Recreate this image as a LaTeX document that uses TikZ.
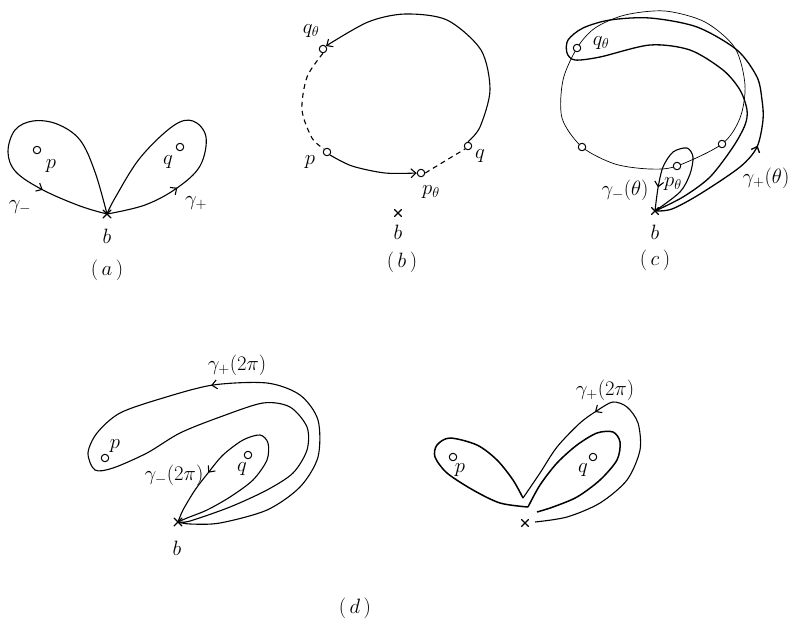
\documentclass[tikz,border=0pt]{standalone}
\usetikzlibrary{arrows.meta,decorations.markings,shapes.misc,backgrounds}
\begin{document}
\begin{tikzpicture}[x=1pt,y=-1pt, line cap=round, line join=round,
 curve/.style={line width=1.1pt},
 thincurve/.style={line width=0.7pt},
 thickcurve/.style={line width=1.5pt},
 pt/.style={circle,draw,fill=white,minimum size=7.5pt,inner sep=0pt,line width=1pt},
 bpt/.style={cross out,draw,minimum size=7pt,inner sep=0pt,line width=1.1pt},
 lab/.style={inner sep=1pt,font=\fontsize{20.74}{24}\selectfont},
 barb/.style={-{Straight Barb[length=5pt,width=9pt]}},
 midarrow/.style={postaction={decorate,decoration={markings,mark=at position #1 with {\arrow{Straight Barb[length=5pt,width=9pt]}}}}},
 dsh/.style={dash pattern=on 5pt off 4pt}
]
\useasboundingbox (0,0) rectangle (793,625);

% ---------- (a) ----------
\node[bpt] (ba) at (107,214) {};
\node[pt] (pa) at (37,150) {};
\node[pt] (qa) at (180,147) {};
\node[lab] (lpa) at (51,166) {$p$};
\node[lab] (lqa) at (168,162) {$q$};
\node[lab] (lgma) at (20,207) {$\gamma_-$};
\node[lab] (lgpa) at (196,203) {$\gamma_+$};
\node[lab] (lba) at (107,236) {$b$};
\node[lab] (capa) at (107,270) {(\,$a$\,)};
\begin{scope}[on background layer]
\draw[curve,midarrow=0.77] plot[smooth,tension=0.6] coordinates {(ba.center) (95,172) (80,140) (57,124) (33,121) (15,130) (8,152) (16,172) (43,190) (80,206) (ba.center)};
\draw[curve,midarrow=0.26] plot[smooth,tension=0.6] coordinates {(ba.center) (145,205) (177,188) (200,166) (206,137) (193,121) (173,126) (140,158) (115,198) (ba.center)};
\end{scope}

% ---------- (b) ----------
\node[pt] (qtb) at (323,49) {};
\node[pt] (pb) at (327,152) {};
\node[pt] (ptb) at (421,173) {};
\node[pt] (qb) at (468,146) {};
\node[bpt,minimum size=6pt] (bb) at (398,213) {};
\node[lab] (lqtb) at (311,31) {$q_\theta$};
\node[lab] (lpb) at (310,162) {$p$};
\node[lab] (lptb) at (431,192) {$p_\theta$};
\node[lab] (lqb) at (480,156) {$q$};
\node[lab] (lbb) at (398,232) {$b$};
\node[lab] (capb) at (402,262) {(\,$b$\,)};
\begin{scope}[on background layer]
\draw[curve,barb] plot[smooth] coordinates {(qb.north) (480,127) (490,90) (481,50) (447,20) (405,14) (368,22) (qtb.north east)};
\draw[curve,dsh] plot[smooth] coordinates {(qtb.south) (307,77) (302,110) (312,138) (pb.north west)};
\draw[curve,barb] plot[smooth] coordinates {(pb.south east) (352,166) (385,173) (ptb.west)};
\draw[curve,dsh] plot[smooth] coordinates {(ptb.east) (445,161) (qb.south west)};
\end{scope}

% ---------- (c) ----------
\node[pt] (qtc) at (577,48) {};
\node[pt] (lc) at (582,147) {};
\node[pt] (ptc) at (677,166) {};
\node[pt] (rc) at (722,144) {};
\node[bpt,minimum size=6pt] (bc) at (655,211) {};
\node[lab] (lqtc) at (601,43) {$q_\theta$};
\node[lab] (lgmc) at (625,190) {$\gamma_-(\theta)$};
\node[lab] (lptc) at (673,184) {$p_\theta$};
\node[lab] (lgpc) at (766,178) {$\gamma_+(\theta)$};
\node[lab] (lbc) at (655,232) {$b$};
\node[lab] (capc) at (655,260) {(\,$c$\,)};
\begin{scope}[on background layer]
\draw[thincurve] plot[smooth cycle] coordinates {(qtc.center) (563,80) (562,118) (lc.center) (615,164) (650,169) (ptc.center) (rc.center) (740,118) (745,85) (735,48) (705,22) (665,11) (625,15) (595,28)};
\draw[curve,line width=1.3pt,midarrow=0.16] plot[smooth] coordinates {(bc.center) (672,209) (700,194) (740,167) (757,147) (763,120) (762,100) (757,77) (737,50) (697,27) (650,18) (610,20) (583,28) (568,40) (567,53) (575,60) (600,57) (650,45) (690,50) (723,70) (740,90) (747,110) (745,125) (733,147) (710,177) (683,197) (bc.center)};
\draw[curve,midarrow=0.85] plot[smooth] coordinates {(bc.center) (680,192) (690,174) (693,157) (687,148) (673,152) (663,167) (658,188) (bc.center)};
\end{scope}

% ---------- (d) left ----------
\node[bpt] (bdl) at (178,522) {};
\node[pt] (pdl) at (105,458) {};
\node[pt] (qdl) at (248,455) {};
\node[lab] (lpdl) at (115,446) {$p$};
\node[lab] (lqdl) at (242,469) {$q$};
\node[lab] (lgpdl) at (237,365) {$\gamma_+(2\pi)$};
\node[lab] (lgmdl) at (174,475) {$\gamma_-(2\pi)$};
\node[lab] (lbdl) at (177,548) {$b$};
\begin{scope}[on background layer]
\draw[curve,midarrow=0.78] plot[smooth] coordinates {(bdl.center) (187,518) (207,510) (230,497) (253,480) (267,460) (268,443) (260,435) (243,440) (223,455) (208,473) (195,490) (183,510) (bdl.center)};
\draw[curve,midarrow=0.36] plot[smooth] coordinates {(bdl.center) (190,524) (220,523) (267,510) (300,487) (318,457) (318,420) (300,395) (267,383) (213,385) (163,398) (120,413) (97,433) (88,453) (95,470) (113,468) (147,453) (180,433) (220,417) (263,403) (290,407) (307,427) (307,450) (293,473) (267,490) (230,507) (190,521) (bdl.center)};
\end{scope}

% ---------- (d) right ----------
\node[bpt,minimum size=6pt] (bdr) at (525,523) {};
\node[pt] (pdr) at (453,457) {};
\node[pt] (qdr) at (593,457) {};
\coordinate (vdr) at (523,498);
\coordinate (kdr) at (528,507);
\coordinate (edr) at (537,512);
\coordinate (sdr) at (535,522);
\node[lab] (lpdr) at (460,470) {$p$};
\node[lab] (lqdr) at (583,470) {$q$};
\node[lab] (lgpdr) at (605,390) {$\gamma_+(2\pi)$};
\node[lab] (capd) at (355,608) {(\,$d$\,)};
\begin{scope}[on background layer]
\draw[thickcurve] plot[smooth] coordinates {(vdr) (513,480) (497,460) (477,445) (450,438) (437,445) (435,457) (447,473) (473,490) (500,503) (kdr)};
\draw[thickcurve] plot[smooth] coordinates {(kdr) (540,485) (557,463) (577,445) (597,433) (613,432) (620,442) (617,460) (600,480) (577,497) (553,507) (edr)};
\draw[curve,midarrow=0.66] plot[smooth] coordinates {(sdr) (567,517) (600,503) (627,480) (640,450) (638,423) (627,407) (613,402) (598,410) (580,423) (557,447) (540,473) (vdr)};
\end{scope}
\end{tikzpicture}
\end{document}
